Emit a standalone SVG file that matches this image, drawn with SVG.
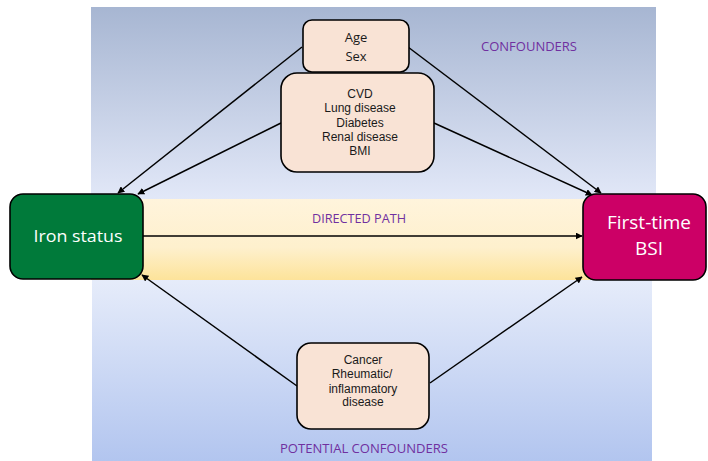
<svg xmlns="http://www.w3.org/2000/svg" width="708" height="461" viewBox="0 0 708 461">
<defs>
<linearGradient id="gTop" x1="0" y1="0" x2="0" y2="1">
<stop offset="0" stop-color="#a7b6d2"/>
<stop offset="1" stop-color="#e2e8f8"/>
</linearGradient>
<linearGradient id="gBot" x1="0" y1="0" x2="0" y2="1">
<stop offset="0" stop-color="#e6ecfa"/>
<stop offset="1" stop-color="#b2c5ef"/>
</linearGradient>
<linearGradient id="gYel" x1="0" y1="0" x2="0" y2="1">
<stop offset="0" stop-color="#fff4dc"/>
<stop offset="0.6" stop-color="#fef0cd"/>
<stop offset="1" stop-color="#fde39a"/>
</linearGradient>
<marker id="ah" viewBox="0 0 10 10" refX="9" refY="5" markerWidth="7" markerHeight="7" markerUnits="userSpaceOnUse" orient="auto">
<path d="M0,0 L10,5 L0,10 z" fill="#000"/>
</marker>
<style>
.conf{fill:#f9e3d5;stroke:#000;stroke-width:1.6}
.lbl{font-family:"Liberation Sans",Arial,sans-serif;font-size:12px;fill:#1a1a1a;text-anchor:middle}
.cal{font-family:"Open Sans","Noto Sans",sans-serif;text-anchor:middle}
.purple{fill:#7030a0;font-size:13px}
.edge{stroke:#000;stroke-width:1.5;fill:none;marker-end:url(#ah)}
</style>
</defs>
<rect width="708" height="461" fill="#fff"/>
<g id="background">
<rect x="91" y="7" width="565" height="193" fill="url(#gTop)"/>
<rect x="92" y="279" width="560" height="182" fill="url(#gBot)"/>
<rect x="91" y="199" width="565" height="81" fill="url(#gYel)"/>
<text class="cal purple" x="529" y="51" textLength="96" lengthAdjust="spacingAndGlyphs">CONFOUNDERS</text>
<text class="cal purple" x="359" y="223" textLength="94" lengthAdjust="spacingAndGlyphs">DIRECTED PATH</text>
<text class="cal purple" x="364" y="453" textLength="168" lengthAdjust="spacingAndGlyphs">POTENTIAL CONFOUNDERS</text>
</g>
<g id="connectors">
<line class="edge" x1="302" y1="47" x2="118" y2="193"/>
<line class="edge" x1="281" y1="123" x2="138" y2="194"/>
<line class="edge" x1="408" y1="47" x2="601" y2="193"/>
<line class="edge" x1="434" y1="123" x2="592" y2="195"/>
<line class="edge" x1="143" y1="236" x2="582" y2="236"/>
<line class="edge" x1="297" y1="386" x2="142" y2="275"/>
<line class="edge" x1="430" y1="383" x2="582" y2="277"/>
</g>
<g id="iron-status">
<rect x="10" y="194" width="133" height="85" rx="13" fill="#007a3a" stroke="#000" stroke-width="1.6"/>
<text class="cal" x="78" y="242" font-size="17" fill="#fff" textLength="89" lengthAdjust="spacingAndGlyphs">Iron status</text>
</g>
<g id="bsi">
<rect x="583" y="194" width="123" height="86" rx="13" fill="#cc0066" stroke="#000" stroke-width="1.6"/>
<text class="cal" x="649" y="229" font-size="19" fill="#fff" textLength="84" lengthAdjust="spacingAndGlyphs">First-time</text>
<text class="cal" x="649" y="255" font-size="19" fill="#fff">BSI</text>
</g>
<g id="age-sex">
<rect class="conf" x="303" y="20" width="106" height="52" rx="9"/>
<text class="cal" x="356" y="42" font-size="13" fill="#1a1a1a">Age</text>
<text class="cal" x="356" y="61" font-size="13" fill="#1a1a1a">Sex</text>
</g>
<g id="comorbidities">
<rect class="conf" x="281" y="73" width="153" height="99" rx="16"/>
<text class="lbl" x="360" y="98">CVD</text>
<text class="lbl" x="360" y="112">Lung disease</text>
<text class="lbl" x="360" y="127">Diabetes</text>
<text class="lbl" x="360" y="141">Renal disease</text>
<text class="lbl" x="360" y="155">BMI</text>
</g>
<g id="potential">
<rect class="conf" x="297" y="343" width="132" height="86" rx="14"/>
<text class="lbl" x="363" y="364">Cancer</text>
<text class="lbl" x="362" y="378">Rheumatic/</text>
<text class="lbl" x="363" y="393">inflammatory</text>
<text class="lbl" x="363" y="406">disease</text>
</g>
</svg>
